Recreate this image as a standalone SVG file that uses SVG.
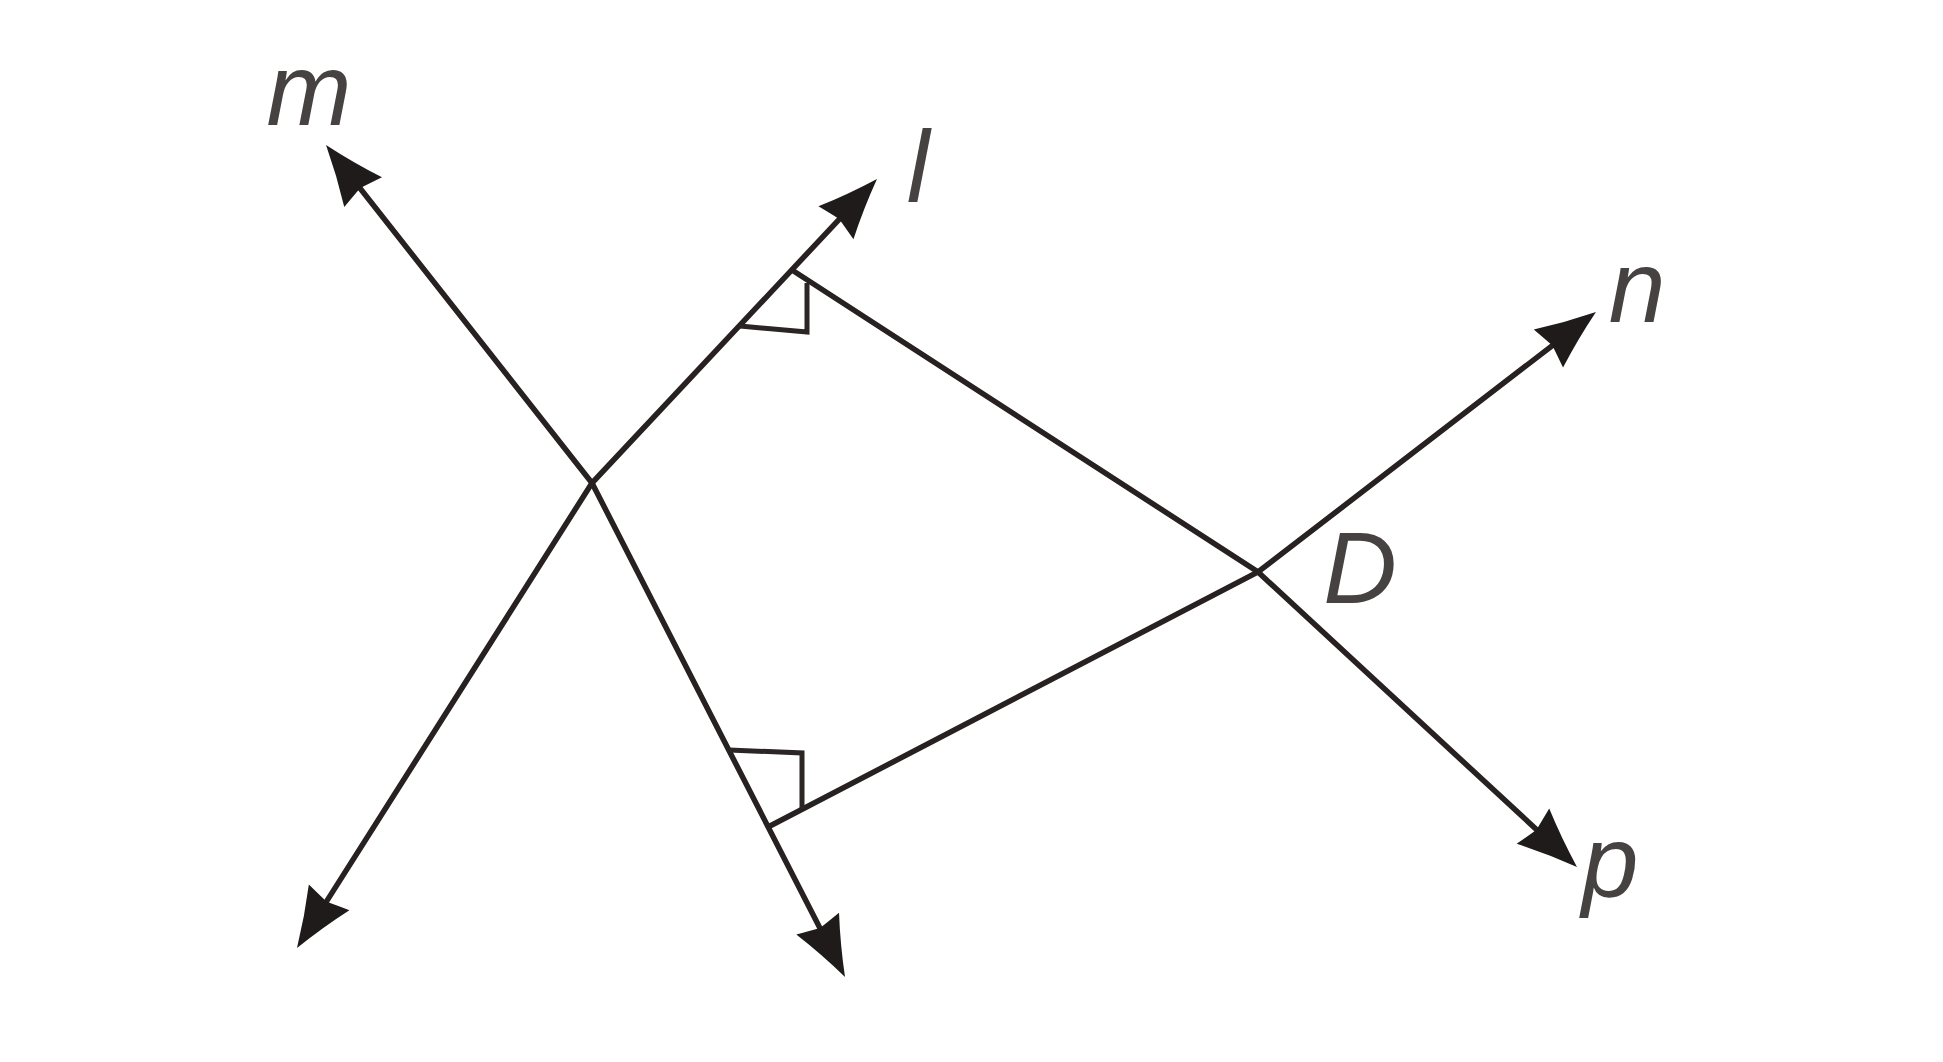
<svg xmlns="http://www.w3.org/2000/svg" width="1943" height="1062" viewBox="0 0 1943 1062">
<style>
.ln{fill:none;stroke:#272121;stroke-width:5.5;stroke-linejoin:miter;stroke-linecap:butt}
.rt{fill:none;stroke:#2b2525;stroke-width:5;stroke-linejoin:miter}
.lb{font-family:"Liberation Sans",Arial,sans-serif;font-style:italic;font-size:102px;fill:#454241;text-anchor:middle}
</style>
<defs>
<marker id="ah" markerUnits="userSpaceOnUse" viewBox="-50 -30 80 60" refX="0" refY="0" markerWidth="80" markerHeight="60" orient="auto-start-reverse">
<path d="M20,0 Q-11,-10.5 -40,-24 Q-37,-10 -35,0 Q-37,10 -40,24 Q-11,10.5 20,0 Z" fill="#1f1b1b"/>
</marker>
</defs>
<rect width="1943" height="1062" fill="#ffffff"/>
<g id="connectors">
<path id="line-m" class="ln" d="M338.4,160.7 L592,483 L835.9,959.2" marker-start="url(#ah)" marker-end="url(#ah)"/>
<path id="line-l" class="ln" d="M307.7,931.1 L592,483 L863.3,193.6" marker-start="url(#ah)" marker-end="url(#ah)"/>
<path id="line-p" class="ln" d="M792,270 L1258,572 L1562.3,853.4" marker-end="url(#ah)"/>
<path id="line-n" class="ln" d="M770,826 L1258,572 L1580.1,324.2" marker-end="url(#ah)"/>
<path id="right-angle-upper" class="rt" d="M740,326 L807,332 L807,283"/>
<path id="right-angle-lower" class="rt" d="M729,750 L802,753 L802,809"/>
</g>
<g id="label-m"><text class="lb" x="309" y="125">m</text></g>
<g id="label-l"><text class="lb" x="918" y="202">l</text></g>
<g id="label-n"><text class="lb" x="1637" y="322">n</text></g>
<g id="label-D"><text class="lb" x="1360" y="603">D</text></g>
<g id="label-p"><text class="lb" x="1610" y="897">p</text></g>
</svg>
